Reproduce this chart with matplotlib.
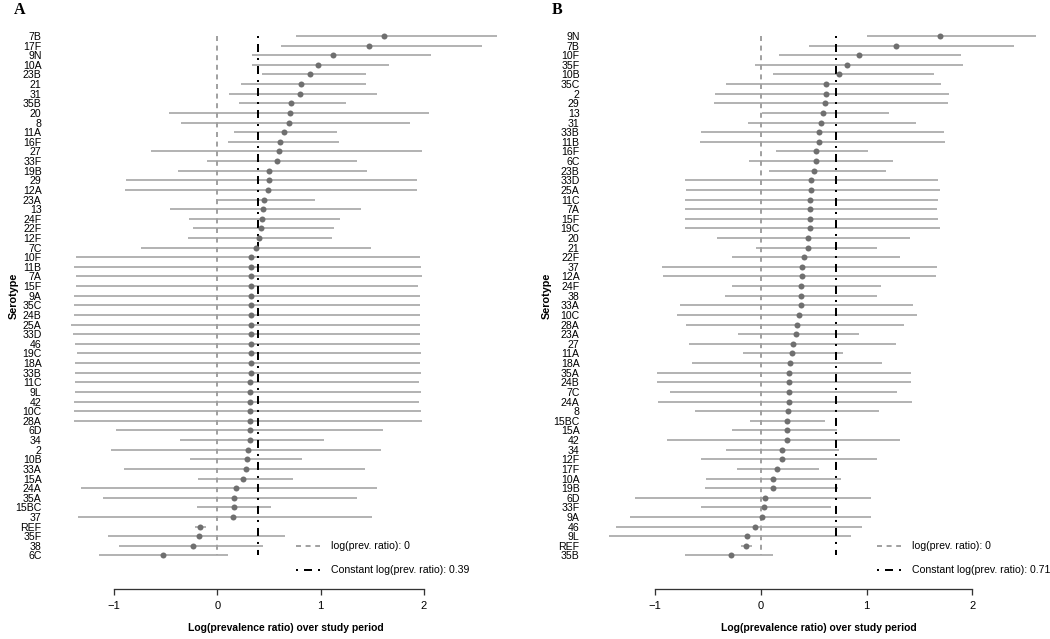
import matplotlib
matplotlib.use("Agg")
import matplotlib.pyplot as plt

plt.rcParams['font.family'] = ['Liberation Sans', 'DejaVu Sans']
plt.rcParams['lines.scale_dashes'] = False

# ---------------- data ----------------
serotypes_A = ["7B", "17F", "9N", "10A", "23B", "21", "31", "35B", "20", "8",
               "11A", "16F", "27", "33F", "19B", "29", "12A", "23A", "13", "24F",
               "22F", "12F", "7C", "10F", "11B", "7A", "15F", "9A", "35C", "24B",
               "25A", "33D", "46", "19C", "18A", "33B", "11C", "9L", "42", "10C",
               "28A", "6D", "34", "2", "10B", "33A", "15A", "24A", "35A", "15BC",
               "37", "REF", "35F", "38", "6C"]
est_A = [1.61, 1.47, 1.12, 0.97, 0.90, 0.81, 0.80, 0.71, 0.70, 0.69,
         0.65, 0.61, 0.60, 0.58, 0.50, 0.50, 0.49, 0.45, 0.44, 0.43,
         0.42, 0.40, 0.37, 0.33, 0.33, 0.33, 0.33, 0.33, 0.33, 0.33,
         0.33, 0.33, 0.33, 0.33, 0.33, 0.33, 0.32, 0.32, 0.32, 0.32,
         0.32, 0.32, 0.32, 0.30, 0.29, 0.28, 0.25, 0.18, 0.16, 0.16,
         0.15, -0.17, -0.18, -0.24, -0.53]
lo_A = [0.76, 0.62, 0.34, 0.34, 0.43, 0.23, 0.11, 0.21, -0.47, -0.35,
        0.16, 0.10, -0.64, -0.10, -0.38, -0.88, -0.89, -0.01, -0.46, -0.27,
        -0.24, -0.28, -0.74, -1.37, -1.39, -1.37, -1.37, -1.39, -1.39, -1.39,
        -1.42, -1.40, -1.38, -1.36, -1.38, -1.38, -1.38, -1.38, -1.39, -1.39,
        -1.39, -0.98, -0.36, -1.03, -0.26, -0.90, -0.19, -1.32, -1.11, -0.20,
        -1.35, -0.22, -1.06, -0.95, -1.15]
hi_A = [2.71, 2.56, 2.07, 1.66, 1.44, 1.44, 1.55, 1.25, 2.05, 1.87,
        1.16, 1.18, 1.98, 1.35, 1.45, 1.93, 1.93, 0.95, 1.39, 1.19,
        1.13, 1.11, 1.49, 1.96, 1.97, 1.98, 1.94, 1.96, 1.96, 1.96,
        1.96, 1.96, 1.96, 1.97, 1.96, 1.97, 1.95, 1.97, 1.95, 1.97,
        1.98, 1.60, 1.03, 1.58, 0.82, 1.43, 0.73, 1.55, 1.35, 0.52,
        1.50, -0.11, 0.66, 0.44, 0.10]
const_A = 0.39

serotypes_B = ["9N", "7B", "10F", "35F", "10B", "35C", "2", "29", "13", "31",
               "33B", "11B", "16F", "6C", "23B", "33D", "25A", "11C", "7A", "15F",
               "19C", "20", "21", "22F", "37", "12A", "24F", "38", "33A", "10C",
               "28A", "23A", "27", "11A", "18A", "35A", "24B", "7C", "24A", "8",
               "15BC", "15A", "42", "34", "12F", "17F", "10A", "19B", "6D", "33F",
               "9A", "46", "9L", "REF", "35B"]
est_B = [1.69, 1.28, 0.93, 0.82, 0.74, 0.62, 0.62, 0.61, 0.59, 0.57,
         0.55, 0.55, 0.52, 0.52, 0.50, 0.48, 0.48, 0.47, 0.47, 0.47,
         0.47, 0.45, 0.45, 0.41, 0.39, 0.39, 0.38, 0.38, 0.38, 0.36,
         0.34, 0.33, 0.31, 0.30, 0.28, 0.27, 0.27, 0.27, 0.27, 0.26,
         0.25, 0.25, 0.25, 0.20, 0.20, 0.15, 0.12, 0.12, 0.04, 0.03,
         0.01, -0.05, -0.13, -0.14, -0.28]
lo_B = [1.00, 0.46, 0.17, -0.05, 0.12, -0.33, -0.43, -0.44, 0.01, -0.12,
        -0.56, -0.57, 0.14, -0.11, 0.08, -0.72, -0.71, -0.72, -0.72, -0.72,
        -0.72, -0.41, -0.04, -0.27, -0.93, -0.92, -0.27, -0.34, -0.76, -0.79,
        -0.71, -0.21, -0.68, -0.17, -0.65, -0.98, -0.98, -0.86, -0.97, -0.62,
        -0.10, -0.27, -0.89, -0.33, -0.56, -0.22, -0.52, -0.53, -1.19, -0.56,
        -1.24, -1.37, -1.43, -0.19, -0.72]
hi_B = [2.60, 2.39, 1.89, 1.91, 1.64, 1.70, 1.78, 1.77, 1.21, 1.47,
        1.73, 1.74, 1.01, 1.25, 1.18, 1.68, 1.69, 1.68, 1.67, 1.68,
        1.69, 1.41, 1.10, 1.32, 1.67, 1.66, 1.14, 1.10, 1.44, 1.48,
        1.35, 0.93, 1.28, 0.78, 1.15, 1.42, 1.42, 1.29, 1.43, 1.12,
        0.61, 0.72, 1.32, 0.74, 1.10, 0.55, 0.76, 0.73, 1.04, 0.66,
        1.04, 0.96, 0.85, -0.08, 0.12]
const_B = 0.71

x_ticks = [-1, 0, 1, 2]
x_ticklabels = ["\u22121", "0", "1", "2"]

# ---------------- layout ----------------
W, H = 1050, 639
fig = plt.figure(figsize=(W / 100, H / 100), dpi=100)

FS = 7.6
CI_COL = "#a8a8a8"
PT_COL = "#6f6f6f"
ZERO_COL = "#a0a0a0"
PX = 1 / 1.389  # points per pixel

TOP_PX, BOT_PX = 20, 589
ROW0_PX, ROW_STEP = 36.0, 9.62


def panel(L, R, x0px, unitpx, names, est, lo, hi, const, letter, letter_x,
          lab_x, ylab_x, leg_x):
    n = len(names)
    ax = fig.add_axes([L / W, 1 - BOT_PX / H, (R - L) / W, (BOT_PX - TOP_PX) / H])
    ax.set_xlim((L - x0px) / unitpx, (R - x0px) / unitpx)
    last_px = ROW0_PX + (n - 1) * ROW_STEP
    ax.set_ylim(1 - (BOT_PX - last_px) / ROW_STEP, 1 + (last_px - TOP_PX) / ROW_STEP)
    ys = [n - i for i in range(n)]

    ax.hlines(ys, lo, hi, color=CI_COL, lw=1.7 * PX, zorder=1)
    zl, = ax.plot([0, 0], [n, 1], color=ZERO_COL, lw=1.4, zorder=2,
                  dashes=(5 * PX, 4.6 * PX), label="log(prev. ratio): 0")
    cl, = ax.plot([const, const], [n, 1], color="black", lw=2 * PX, zorder=3,
                  dashes=(2 * PX, 6 * PX, 8 * PX, 6 * PX),
                  label="Constant log(prev. ratio): %.2f" % const)
    ax.plot(est, ys, 'o', color=PT_COL, ms=6 * PX, mew=0, zorder=4)

    for s in ("top", "right", "left"):
        ax.spines[s].set_visible(False)
    ax.spines["bottom"].set_bounds(-1, 2)
    ax.spines["bottom"].set_color("#333333")
    ax.spines["bottom"].set_linewidth(1.3 * PX)
    ax.set_xticks(x_ticks)
    ax.set_xticklabels(x_ticklabels)
    ax.tick_params(axis="x", length=6 * PX, width=1.3 * PX, color="#333333",
                   labelsize=FS + 0.4, pad=6 * PX)
    ax.set_yticks(ys)
    ax.set_yticklabels(names)
    ax.tick_params(axis="y", length=0, labelsize=FS, pad=3.5 * PX)
    ax.patch.set_visible(False)

    ax.set_xlabel("Log(prevalence ratio) over study period", fontsize=7.45,
                  fontweight="bold")
    ax.xaxis.set_label_coords((lab_x - L) / (R - L), -(628 - BOT_PX) / (BOT_PX - TOP_PX))
    ax.xaxis.label.set_va("center")
    ax.set_ylabel("Serotype", fontsize=FS + 0.2, fontweight="bold")
    ax.yaxis.set_label_coords((ylab_x - L) / (R - L), (BOT_PX - 296) / (BOT_PX - TOP_PX))
    ax.yaxis.label.set_va("center")

    fig.text(letter_x / W, 1 - 10.5 / H, letter, fontsize=11.5, fontweight="bold",
             family=["Liberation Serif", "DejaVu Serif"], ha="left", va="center")

    fs_px = FS / PX
    leg = ax.legend(handles=[zl, cl], loc="upper left",
                    bbox_to_anchor=(leg_x / W, 1 - (548.4 - 0.58 * fs_px * 1.15) / H),
                    bbox_transform=fig.transFigure, frameon=False, fontsize=FS,
                    handlelength=24 * PX / FS, handletextpad=11 * PX / FS,
                    borderpad=0, borderaxespad=0,
                    labelspacing=(26.2 * PX - 1.15 * FS) / FS)
    return ax


panel(45, 515, 217.3, 103.3, serotypes_A, est_A, lo_A, hi_A, const_A, "A", 14, 286, 14, 296)
panel(583, 1045, 760.7, 105.8, serotypes_B, est_B, lo_B, hi_B, const_B, "B", 552, 819, 547, 877)

fig.savefig("out.png", dpi=100)
